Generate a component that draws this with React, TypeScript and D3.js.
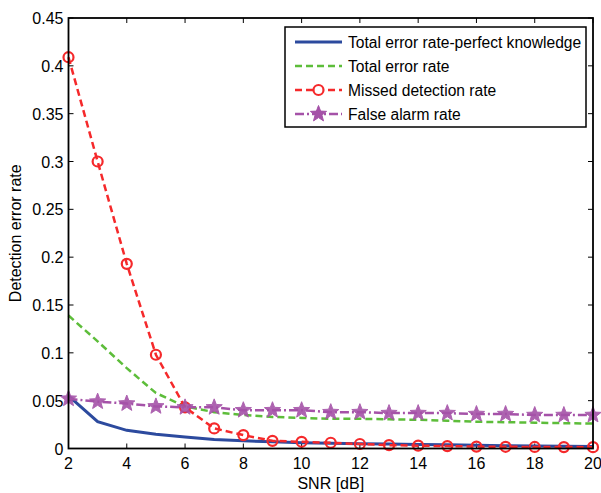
import React from "react";
import * as d3 from "d3";

const snr = [2, 3, 4, 5, 6, 7, 8, 9, 10, 11, 12, 13, 14, 15, 16, 17, 18, 19, 20];
const perfect = [0.055, 0.028, 0.019, 0.015, 0.012, 0.0095, 0.008, 0.007, 0.006, 0.0055, 0.005, 0.0047, 0.0043, 0.0038, 0.0033, 0.003, 0.0027, 0.0024, 0.0022];
const totalErr = [0.139, 0.112, 0.084, 0.058, 0.044, 0.038, 0.035, 0.033, 0.032, 0.031, 0.031, 0.0305, 0.030, 0.029, 0.028, 0.0275, 0.027, 0.0265, 0.026];
const missed = [0.409, 0.30, 0.193, 0.098, 0.043, 0.021, 0.014, 0.008, 0.007, 0.006, 0.0047, 0.0035, 0.003, 0.0025, 0.002, 0.0018, 0.0016, 0.0015, 0.0014];
const falseAlarm = [0.052, 0.049, 0.047, 0.044, 0.043, 0.043, 0.040, 0.040, 0.040, 0.038, 0.038, 0.037, 0.037, 0.037, 0.036, 0.036, 0.035, 0.035, 0.035];
const xTicks = [2, 4, 6, 8, 10, 12, 14, 16, 18, 20];
const yTicks = [0, 0.05, 0.1, 0.15, 0.2, 0.25, 0.3, 0.35, 0.4, 0.45];
const legendLabels = ["Total error rate-perfect knowledge", "Total error rate", "Missed detection rate", "False alarm rate"];

const W = 601, H = 493;
const L = 68.5, R = 593, T = 18, B = 448.5;
const FONT = "Liberation Sans, Arial, sans-serif";

const BLUE = "#2c4a9e";
const GREEN = "#5dbd3a";
const RED = "#f5292b";
const PURPLE = "#a552a8";

function starPath(cx: number, cy: number, ro: number, ri: number) {
  const pts: string[] = [];
  for (let i = 0; i < 10; i++) {
    const a = -Math.PI / 2 + (i * Math.PI) / 5;
    const r = i % 2 === 0 ? ro : ri;
    pts.push(`${(cx + r * Math.cos(a)).toFixed(2)},${(cy + r * Math.sin(a)).toFixed(2)}`);
  }
  return "M" + pts.join("L") + "Z";
}

export default function App() {
  const x = d3.scaleLinear().domain([2, 20]).range([L, R]);
  const y = d3.scaleLinear().domain([0, 0.45]).range([B, T]);
  const line = d3.line<number>().x((_, i) => x(snr[i])).y((d) => y(d));

  const series = [
    { data: perfect, color: BLUE, dash: "none", marker: "none", w: 3 },
    { data: totalErr, color: GREEN, dash: "7,4", marker: "none", w: 2.5 },
    { data: missed, color: RED, dash: "7,4", marker: "circle", w: 2.5 },
    { data: falseAlarm, color: PURPLE, dash: "9,3,2,3", marker: "star", w: 2.5 },
  ];

  const lgX = 285, lgY = 27, lgW = 301, lgH = 100;

  return (
    <svg width={W} height={H} style={{ position: "absolute", left: 0, top: 0, background: "#fff" }} fontFamily={FONT}>
      <rect x={0} y={0} width={W} height={H} fill="#fff" />
      {xTicks.map((t) => (
        <g key={"xt" + t}>
          <line x1={x(t)} x2={x(t)} y1={B} y2={B - 5} stroke="#000" />
          <line x1={x(t)} x2={x(t)} y1={T} y2={T + 5} stroke="#000" />
          <text x={x(t)} y={B + 20} textAnchor="middle" fontSize={16}>{t}</text>
        </g>
      ))}
      {yTicks.map((t) => (
        <g key={"yt" + t}>
          <line x1={L} x2={L + 5} y1={y(t)} y2={y(t)} stroke="#000" />
          <line x1={R} x2={R - 5} y1={y(t)} y2={y(t)} stroke="#000" />
          <text x={L - 5} y={y(t) + 6} textAnchor="end" fontSize={16}>{String(t)}</text>
        </g>
      ))}
      {series.map((s, k) => (
        <g key={"s" + k}>
          <path d={line(s.data) || ""} fill="none" stroke={s.color} strokeWidth={s.w} strokeDasharray={s.dash === "none" ? undefined : s.dash} />
          {s.marker === "circle" && s.data.map((v, i) => (
            <circle key={i} cx={x(snr[i])} cy={y(v)} r={5} fill="none" stroke={s.color} strokeWidth={2.2} />
          ))}
          {s.marker === "star" && s.data.map((v, i) => (
            <path key={i} d={starPath(x(snr[i]), y(v), 8.5, 3.6)} fill={s.color} stroke={s.color} strokeWidth={1} opacity={0.9} />
          ))}
        </g>
      ))}
      <rect x={L} y={T} width={R - L} height={B - T} fill="none" stroke="#000" strokeWidth={1.8} />
      <rect x={lgX} y={lgY} width={lgW} height={lgH} fill="#fff" stroke="#000" strokeWidth={1.5} />
      {series.map((s, k) => {
        const cy = lgY + 15 + k * 24;
        return (
          <g key={"lg" + k}>
            <line x1={295} x2={342} y1={cy} y2={cy} stroke={s.color} strokeWidth={s.w} strokeDasharray={s.dash === "none" ? undefined : s.dash} />
            {s.marker === "circle" && <circle cx={318.5} cy={cy} r={5} fill="#fff" stroke={s.color} strokeWidth={2.2} />}
            {s.marker === "star" && <path d={starPath(318.5, cy, 8.5, 3.6)} fill={s.color} stroke={s.color} />}
            <text x={348} y={cy + 6} fontSize={15.6}>{legendLabels[k]}</text>
          </g>
        );
      })}
      <text x={(L + R) / 2} y={489} textAnchor="middle" fontSize={16}>SNR [dB]</text>
      <text transform={`translate(21,${(T + B) / 2}) rotate(-90)`} textAnchor="middle" fontSize={16}>Detection error rate</text>
    </svg>
  );
}
